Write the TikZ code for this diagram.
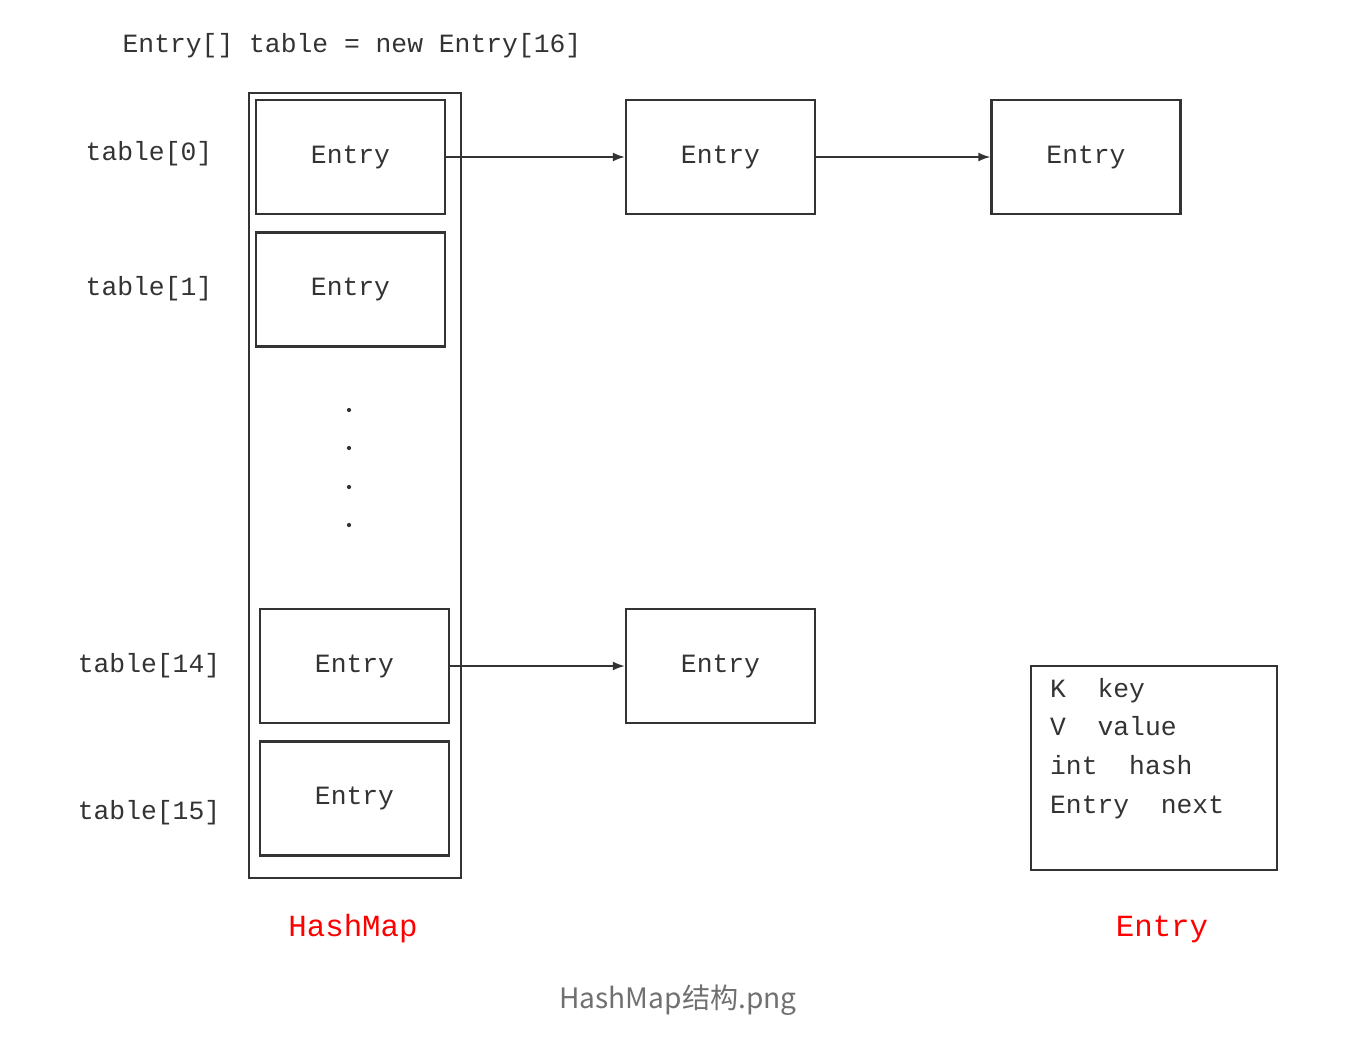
\documentclass[tikz,border=0pt]{standalone}
\usepackage{fontspec}
\setmainfont{Liberation Mono}
\newfontfamily\cjk{Noto Sans CJK SC}
\usetikzlibrary{arrows.meta,positioning}
\definecolor{ink}{HTML}{333333}
\definecolor{capgray}{HTML}{707070}
\begin{document}
\begin{tikzpicture}[x=0.02cm,y=-0.02cm,
    every node/.style={font=\fontsize{15}{22}\selectfont,text=ink},
    ent/.style={draw=ink,line width=1.4pt,minimum width=3.78cm,
        minimum height=2.28cm,inner sep=0pt},
    lab/.style={anchor=center},
    red/.style={text=red,font=\fontsize{17.5}{20}\selectfont},
    link/.style={draw=ink,line width=0.9pt,-{Latex[length=2.4mm,width=1.8mm]}}]

    \useasboundingbox (0,0) rectangle (1364,1042);

    % the table

    \node[lab] (decl) at (352,46) {Entry[] table = new Entry[16]};
    \node[draw=ink,line width=1.4pt,minimum width=4.24cm,minimum
        height=15.7cm,inner sep=0pt] (map) at (355,485.5) {};
    \node[ent] (e0) at (350.5,157) {Entry};
    \node[ent] (e1) at (350.5,289.5) {Entry};
    \node[ent] (e14) at (354.5,666) {Entry};
    \node[ent] (e15) at (354.5,798.5) {Entry};
    \foreach \y/\n in {410/a,448/b,487/c,525/d}
    \fill[ink] (349,\y) circle (1.2pt) coordinate (dot\n);

    \node[lab] (t0) at (149,154) {table[0]};
    \node[lab] (t1) at (149,289) {table[1]};
    \node[lab] (t14) at (149,666) {table[14]};
    \node[lab] (t15) at (149,813) {table[15]};

    % the chains

    \node[ent] (c01) at (720.5,157) {Entry};
    \node[ent] (c02) at (1086,157) {Entry};
    \node[ent] (c141) at (720.5,666) {Entry};

    \draw[link] (e0) to (c01);
    \draw[link] (c01) to (c02);
    \draw[link] (e14) to (c141);

    % the entry fields

    \node[draw=ink,line width=1.4pt,minimum width=4.92cm,minimum
        height=4.08cm,inner sep=0pt] (fields) at (1154,768) {};
    \node[align=left,anchor=north west,inner sep=0pt,
        below right=0.26cm and 0.4cm of fields.north west] (fieldtext)
    {K\ \ key\\V\ \ value\\int\ \ hash\\Entry\ \ next};

    \node[red] (maplab) at (353,929) {HashMap};
    \node[red] (entlab) at (1162,929) {Entry};

    \node[text=capgray,font=\cjk\fontsize{16}{18}\selectfont] (cap) at
    (678,1000) {HashMap结构.png};
  \end{tikzpicture}
\end{document}
